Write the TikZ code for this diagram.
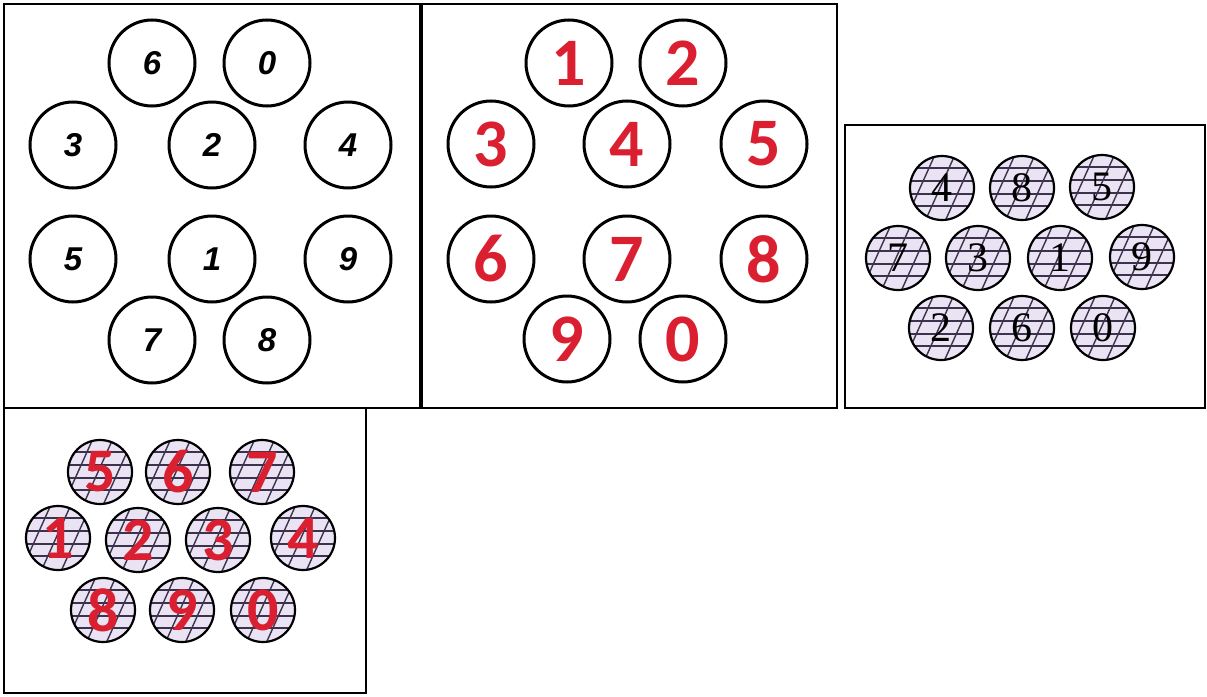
\documentclass[tikz,border=0pt]{standalone}
\usepackage{fontspec}
\newfontfamily\techfont{Liberation Sans}
\newfontfamily\calfont{Carlito}
\newfontfamily\romfont{Liberation Serif}
\definecolor{digitred}{RGB}{218,32,48}
\definecolor{hatchfill}{RGB}{233,227,243}
\definecolor{hatchline}{RGB}{60,50,75}
\tikzset{
  plainball/.style={circle,draw,line width=3pt,minimum size=86pt,inner sep=0pt},
  hatchball/.style={circle,draw,line width=2.2pt,fill=hatchfill,minimum size=64pt,inner sep=0pt,
    path picture={
      \foreach \hy in {-20,-7,6,18}
        \draw[hatchline,line width=1.4pt]
          ([shift={(-40,\hy)}]path picture bounding box.center) --
          ([shift={(40,\hy)}]path picture bounding box.center);
      \foreach \hx in {-22,-2,18}
        \draw[hatchline,line width=1.4pt]
          ([shift={(\hx-18,40)}]path picture bounding box.center) --
          ([shift={(\hx+18,-40)}]path picture bounding box.center);
    }},
  techdigit/.style={font=\techfont\bfseries\itshape\fontsize{33}{33}\selectfont},
  reddigit/.style={text=digitred,font=\calfont\bfseries\fontsize{68}{68}\selectfont},
  romdigit/.style={font=\romfont\fontsize{42}{42}\selectfont},
  frame/.style={line width=2pt},
}

\begin{document}
\begin{tikzpicture}[x=1pt,y=-1pt]
  \useasboundingbox (0,0) rectangle (1207,696);
  % panel frames
  \draw[frame] (4,4) rectangle (420,408);
  \draw[frame] (422,4) rectangle (837,408);
  \draw[frame] (845,125) rectangle (1205,408);
  \draw[frame] (4,408) rectangle (366,693);

  % top left: italic digits
  \foreach \d/\x/\y in {6/152/63, 0/267/63, 3/73/145, 2/212/145, 4/348/145,
                        5/73/259, 1/212/259, 9/348/259, 7/152/340, 8/267/340}
    \node[plainball,techdigit] (a\d) at (\x,\y) {\d};

  % top middle: red digits
  \foreach \d/\x/\y in {1/569/63, 2/683/63, 3/491/144, 4/627/144, 5/764/144,
                        6/491/259, 7/627/259, 8/764/259, 9/567/339, 0/683/339}
    \node[plainball,reddigit] (b\d) at (\x,\y) {\d};

  % right: hatched, serif digits
  \foreach \d/\x/\y in {4/942/188, 8/1022/188, 5/1102/187, 7/898/258, 3/978/258,
                        1/1060/258, 9/1142/257, 2/941/328, 6/1022/328, 0/1103/328}
    \node[hatchball,romdigit] (c\d) at (\x,\y) {\d};

  % bottom left: hatched, red digits
  \foreach \d/\x/\y in {5/100/472, 6/178/472, 7/262/472, 1/58/538, 2/138/540,
                        3/218/540, 4/303/538, 8/103/610, 9/182/610, 0/263/610}
    \node[hatchball,reddigit,font=\calfont\bfseries\fontsize{62}{62}\selectfont] (d\d) at (\x,\y) {\d};
\end{tikzpicture}
\end{document}
